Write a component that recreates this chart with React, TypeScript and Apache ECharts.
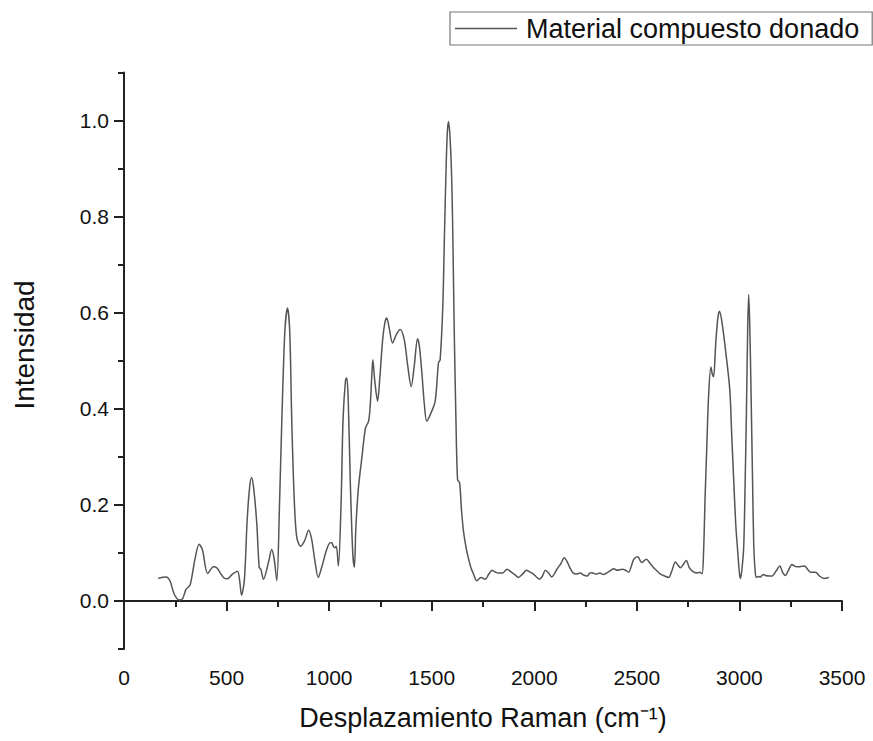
import React, { useEffect, useRef } from "react";
import * as echarts from "echarts";

const seriesName = "Material compuesto donado";
const xTitle = "Desplazamiento Raman (cm⁻¹)";
const yTitle = "Intensidad";

const ramanShift: number[] = [
  166, 205, 224, 245, 270, 286, 302, 322, 346, 366, 382, 408, 436, 452, 485, 504, 526, 553, 563, 573,
  587, 600, 612, 622, 632, 647, 659, 667, 680, 704, 720, 732, 745, 758, 769, 784, 797, 808, 818, 830,
  842, 861, 880, 900, 915, 930, 947, 963, 988, 1005, 1013, 1021, 1028, 1035, 1045, 1058, 1068, 1080, 1086, 1093,
  1103, 1115, 1123, 1130, 1142, 1160, 1177, 1192, 1200, 1208, 1213, 1222, 1236, 1248, 1260, 1272, 1281, 1292, 1309, 1328,
  1346, 1366, 1383, 1400, 1415, 1431, 1440, 1452, 1464, 1476, 1497, 1517, 1533, 1541, 1554, 1562, 1570, 1576, 1582, 1590,
  1598, 1604, 1610, 1618, 1626, 1636, 1645, 1655, 1668, 1680, 1692, 1704, 1720, 1740, 1761, 1777, 1794, 1810, 1826, 1845,
  1867, 1891, 1905, 1923, 1945, 1961, 1980, 1996, 2010, 2026, 2040, 2054, 2070, 2085, 2100, 2110, 2130, 2146, 2160, 2175,
  2188, 2205, 2224, 2240, 2257, 2270, 2281, 2300, 2320, 2338, 2360, 2387, 2405, 2428, 2445, 2460, 2475, 2485, 2505, 2515,
  2525, 2546, 2565, 2582, 2600, 2615, 2635, 2655, 2670, 2688, 2700, 2712, 2725, 2741, 2755, 2770, 2793, 2805, 2818, 2825,
  2833, 2841, 2850, 2861, 2868, 2874, 2885, 2895, 2903, 2915, 2932, 2953, 2962, 2972, 2982, 2992, 3000, 3005, 3012, 3021,
  3028, 3034, 3040, 3045, 3050, 3057, 3064, 3070, 3077, 3083, 3092, 3102, 3115, 3127, 3145, 3159, 3178, 3197, 3210, 3224,
  3240, 3256, 3272, 3289, 3303, 3317, 3332, 3346, 3371, 3390, 3412, 3436,
];

const intensity: number[] = [
  0.047, 0.05, 0.042, 0.014, 0.002, 0.005, 0.024, 0.033, 0.087, 0.118, 0.107, 0.057, 0.071, 0.069, 0.049, 0.046, 0.055, 0.062, 0.045, 0.012,
  0.045, 0.165, 0.235, 0.257, 0.235, 0.163, 0.07, 0.066, 0.045, 0.08, 0.107, 0.087, 0.042, 0.2, 0.371, 0.56, 0.61, 0.56, 0.371, 0.21,
  0.133, 0.114, 0.125, 0.147, 0.128, 0.085, 0.049, 0.069, 0.107, 0.121, 0.121, 0.113, 0.111, 0.114, 0.073, 0.2, 0.38, 0.46, 0.464, 0.42,
  0.25, 0.1, 0.07, 0.15, 0.232, 0.3, 0.36, 0.374, 0.405, 0.47, 0.502, 0.46, 0.416, 0.47, 0.54, 0.58, 0.589, 0.57, 0.537, 0.555,
  0.565, 0.544, 0.49, 0.446, 0.49, 0.546, 0.53, 0.475, 0.41, 0.374, 0.392, 0.416, 0.496, 0.502, 0.613, 0.76, 0.9, 0.975, 0.998, 0.96,
  0.87, 0.73, 0.558, 0.38, 0.253, 0.246, 0.19, 0.145, 0.11, 0.087, 0.068, 0.056, 0.042, 0.049, 0.045, 0.055, 0.064, 0.06, 0.058, 0.058,
  0.066, 0.059, 0.055, 0.049, 0.057, 0.064, 0.06, 0.056, 0.05, 0.045, 0.052, 0.064, 0.058, 0.05, 0.058, 0.066, 0.078, 0.09, 0.082, 0.068,
  0.059, 0.056, 0.058, 0.054, 0.052, 0.058, 0.059, 0.056, 0.058, 0.055, 0.06, 0.067, 0.064, 0.066, 0.064, 0.06, 0.075, 0.087, 0.092, 0.085,
  0.08, 0.087, 0.078, 0.069, 0.062, 0.056, 0.052, 0.049, 0.062, 0.081, 0.075, 0.069, 0.075, 0.084, 0.07, 0.062, 0.058, 0.06, 0.057, 0.1,
  0.22, 0.322, 0.43, 0.487, 0.472, 0.467, 0.54, 0.59, 0.603, 0.58, 0.523, 0.44, 0.35, 0.253, 0.16, 0.101, 0.058, 0.047, 0.065, 0.114,
  0.25, 0.392, 0.56, 0.638, 0.58, 0.426, 0.25, 0.114, 0.06, 0.049, 0.051, 0.05, 0.055, 0.053, 0.052, 0.052, 0.062, 0.073, 0.06, 0.053,
  0.065, 0.076, 0.072, 0.071, 0.072, 0.073, 0.066, 0.06, 0.06, 0.052, 0.047, 0.049,
];

const yMajorTicks: number[] = [0, 0.2, 0.4, 0.6, 0.8, 1.0];
const yMinorTicks: number[] = [-0.1, 0.1, 0.3, 0.5, 0.7, 0.9, 1.1];

export default function App() {
  const ref = useRef<HTMLDivElement>(null);

  useEffect(() => {
    document.body.style.margin = "0";
    if (!ref.current) return;
    const chart = echarts.init(ref.current, null, { renderer: "svg" });
    const font = "'Liberation Sans', Arial, sans-serif";
    const axisColor = "#222";
    chart.setOption({
      animation: false,
      backgroundColor: "#fff",
      textStyle: { fontFamily: font },
      legend: {
        left: 450,
        top: 12,
        padding: [3, 13, 3, 5],
        itemWidth: 62,
        itemHeight: 1.5,
        itemGap: 5,
        borderColor: "#777",
        borderWidth: 1.2,
        borderRadius: 0,
        textStyle: { fontSize: 27, color: "#111", fontFamily: font, padding: [0, 0, 0, 4] },
        data: [{ name: seriesName, icon: "rect", itemStyle: { color: "#555" } }],
      },
      graphic: [
        {
          type: "text",
          x: 24,
          y: 345,
          rotation: Math.PI / 2,
          style: {
            text: yTitle,
            fontSize: 28,
            fontFamily: font,
            fill: "#111",
            align: "center",
            verticalAlign: "middle",
          },
        },
      ],
      grid: { left: 124, right: 31, top: 72.6, bottom: 92, containLabel: false },
      xAxis: {
        type: "value",
        min: 0,
        max: 3500,
        interval: 500,
        name: xTitle,
        nameLocation: "middle",
        nameGap: 55,
        nameTextStyle: { fontSize: 27, color: "#111", fontFamily: font },
        axisLine: { show: true, lineStyle: { color: axisColor, width: 2 } },
        axisTick: { show: true, length: 10, lineStyle: { color: axisColor, width: 2 } },
        minorTick: { show: true, splitNumber: 2, length: 6, lineStyle: { color: axisColor, width: 2 } },
        axisLabel: {
          fontSize: 21,
          color: "#111",
          margin: 18,
          fontFamily: font,
          formatter: (v: number) => String(v),
        },
        splitLine: { show: false },
      },
      yAxis: [
        {
          type: "value",
          min: -0.1,
          max: 1.1,
          position: "left",
          axisLine: { show: true, onZero: false, lineStyle: { color: axisColor, width: 2 } },
          axisTick: { show: true, length: 10, customValues: yMajorTicks, lineStyle: { color: axisColor, width: 2 } },
          axisLabel: {
            fontSize: 21,
            color: "#111",
            margin: 15,
            fontFamily: font,
            customValues: yMajorTicks,
            formatter: (v: number) => v.toFixed(1),
          },
          splitLine: { show: false },
        },
        {
          type: "value",
          min: -0.1,
          max: 1.1,
          position: "left",
          axisLine: { show: false },
          axisTick: { show: true, length: 6, customValues: yMinorTicks, lineStyle: { color: axisColor, width: 2 } },
          axisLabel: { show: false },
          splitLine: { show: false },
        },
      ],
      series: [
        {
          name: seriesName,
          type: "line",
          xAxisIndex: 0,
          yAxisIndex: 0,
          data: ramanShift.map((x, i) => [x, intensity[i]]),
          symbol: "none",
          smooth: 0.3,
          lineStyle: { color: "#555", width: 1.5 },
          itemStyle: { color: "#555" },
        },
      ],
    });
    return () => chart.dispose();
  }, []);

  return <div ref={ref} style={{ width: 873, height: 741 }} />;
}
